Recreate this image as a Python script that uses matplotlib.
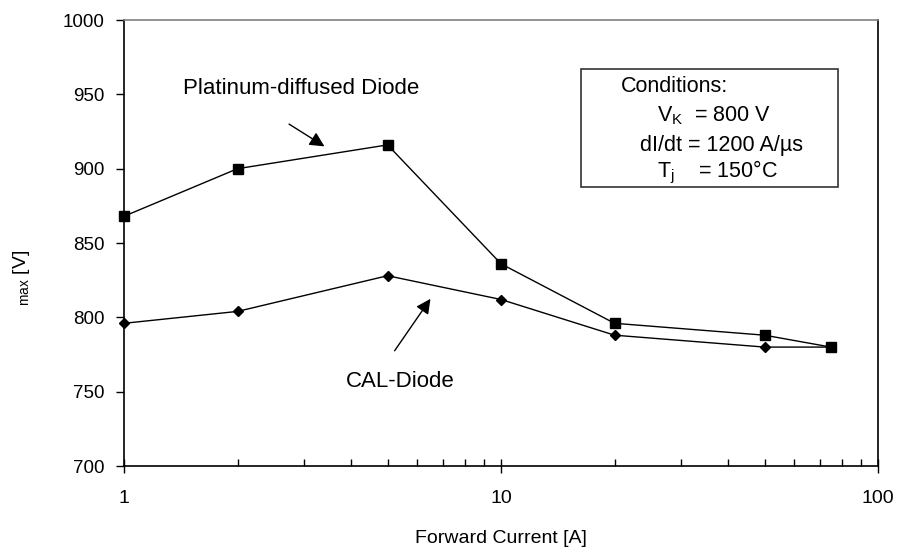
import matplotlib
matplotlib.use("Agg")
import matplotlib.pyplot as plt
from matplotlib.patches import Rectangle
from matplotlib.ticker import LogLocator, NullFormatter

plt.rcParams['font.family'] = ['Liberation Sans', 'DejaVu Sans']
plt.rcParams['mathtext.fontset'] = 'custom'
plt.rcParams['mathtext.rm'] = 'Liberation Sans'
plt.rcParams['mathtext.it'] = 'Liberation Sans'
plt.rcParams['mathtext.default'] = 'regular'

# Data
current_pt = [1, 2, 5, 10, 20, 50, 75]
vmax_pt = [868, 900, 916, 836, 796, 788, 780]
current_cal = [1, 2, 5, 10, 20, 50, 75]
vmax_cal = [796, 804, 828, 812, 788, 780, 780]
y_ticks = [700, 750, 800, 850, 900, 950, 1000]
x_ticks = [1, 10, 100]
x_ticklabels = ['1', '10', '100']

fig = plt.figure(figsize=(8.99, 5.5), dpi=100)
ax = fig.add_axes([0.138, 0.1527, 0.8387, 0.8109])

ax.plot(current_cal, vmax_cal, color='black', lw=1.0, marker='D', markersize=5, zorder=3, clip_on=False)
ax.plot(current_pt, vmax_pt, color='black', lw=1.0, marker='s', markersize=7, zorder=4, clip_on=False)

ax.set_xscale('log')
ax.set_xlim(1, 100)
ax.set_ylim(700, 1000)
ax.set_xticks(x_ticks)
ax.set_xticklabels(x_ticklabels)
ax.xaxis.set_minor_locator(LogLocator(base=10, subs=range(2, 10)))
ax.xaxis.set_minor_formatter(NullFormatter())
ax.set_yticks(y_ticks)

ax.tick_params(axis='x', which='major', direction='inout', length=10, width=1, labelsize=14, pad=12)
ax.tick_params(axis='x', which='minor', direction='in', length=5, width=1)
ax.tick_params(axis='y', which='major', direction='out', length=6, width=1, labelsize=13.5, pad=8)

for s in ['left', 'bottom', 'right']:
    ax.spines[s].set_color('black')
    ax.spines[s].set_linewidth(1.2)
ax.spines['top'].set_color('#808080')
ax.spines['top'].set_linewidth(1.2)

ax.set_xlabel('Forward Current [A]', fontsize=14, labelpad=17)
fig.text(22/899, 1-278/550, r'$_{max}$ [V]', fontsize=14, rotation=90, ha='center', va='center')

# Annotations
ax.annotate('', xy=(3.45, 914), xytext=(2.7, 931),
            arrowprops=dict(arrowstyle='-|>', color='black', lw=1, mutation_scale=22))
ax.text(2.95, 954, 'Platinum-diffused Diode', fontsize=16, ha='center', va='center')

ax.annotate('', xy=(6.56, 814), xytext=(5.17, 776),
            arrowprops=dict(arrowstyle='-|>', color='black', lw=1, mutation_scale=22))
ax.text(5.39, 757, 'CAL-Diode', fontsize=16, ha='center', va='center')

# Conditions box
fig.patches.append(Rectangle((581/899, 1-187/550), (838-581)/899, (187-69)/550,
                             transform=fig.transFigure, facecolor='white',
                             edgecolor='#333333', lw=1.2, zorder=5))
lines = [('Conditions:', 674, 87),
         (r'V$_K$  = 800 V', 714, 116),
         ('dI/dt = 1200 A/µs', 722, 145),
         (r'T$_j$    = 150°C', 717, 172)]
for txt, x, y in lines:
    fig.text(x/899, 1-y/550, txt, fontsize=15.5, ha='center', va='center', zorder=6)

fig.savefig('out.png', dpi=100)
